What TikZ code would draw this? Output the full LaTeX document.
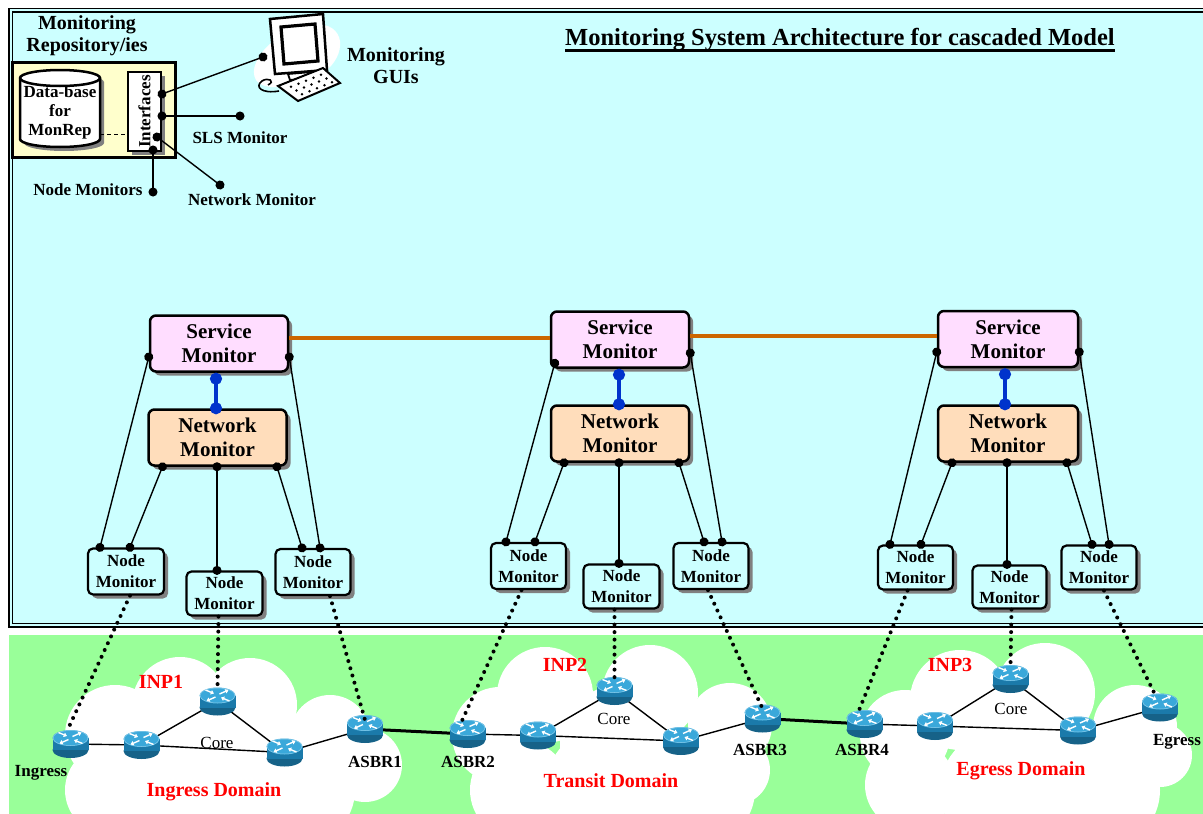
\documentclass[tikz,border=0pt]{standalone}
\usepackage{fontspec}
\usepackage{graphicx}
\setmainfont{Liberation Serif}
\usetikzlibrary{shadows,arrows.meta,calc}

\definecolor{cyanbg}{HTML}{CCFFFF}
\definecolor{greenbg}{HTML}{99FF99}
\definecolor{smfill}{HTML}{FFDDFF}
\definecolor{nmfill}{HTML}{FFDDBB}
\definecolor{repofill}{HTML}{FFFFCC}
\definecolor{peer}{HTML}{CC6600}
\definecolor{vlink}{HTML}{0033CC}
\definecolor{rtop}{HTML}{3AA8DA}
\definecolor{rbody}{HTML}{1B7AAA}
\definecolor{inpred}{HTML}{FF0000}

\newcommand\myfs[2]{\fontsize{#1pt}{#2pt}\selectfont}

\tikzset{
  box/.style={draw, line width=2.5pt, rounded corners=6pt, align=center, inner sep=0pt,
    drop shadow={shadow xshift=4pt, shadow yshift=-4pt, fill=black!50, opacity=1}},
  svcmon/.style={box, fill=smfill, minimum width=138pt, minimum height=56pt, font=\bfseries\myfs{21}{24}},
  netmon/.style={box, fill=nmfill, minimum width=138pt, minimum height=56pt, font=\bfseries\myfs{21}{24}},
  nodemon/.style={box, fill=cyanbg, minimum width=75pt, minimum height=45pt, line width=2.2pt,
    rounded corners=5pt, font=\bfseries\myfs{17}{21}},
  conn/.style={line width=1.4pt, shorten >=-4.5pt, shorten <=-4.5pt,
    {Circle[length=9pt]}-{Circle[length=9pt]}},
  vconn/.style={vlink, line width=3.2pt, shorten >=-6pt, shorten <=-6pt,
    {Circle[length=12pt]}-{Circle[length=12pt]}},
  peerlink/.style={peer, line width=3.5pt},
  monlink/.style={line width=4pt, dash pattern=on 0pt off 7.5pt, line cap=round},
  intra/.style={line width=1.4pt},
  inter/.style={line width=3pt},
  lbl/.style={font=\bfseries\myfs{17}{19}, inner sep=0pt},
  inp/.style={font=\bfseries\myfs{20}{22}, text=inpred, inner sep=0pt},
  corelbl/.style={font=\myfs{17}{19}, inner sep=0pt},
  router/.pic={
    \fill[rbody!80!black] (0,6) ellipse [x radius=18pt, y radius=8pt];
    \fill[rbody] (-18,-6) rectangle (18,6);
    \fill[rtop] (0,-6) ellipse [x radius=18pt, y radius=8pt];
    \draw[rtop!60!white, line width=0.5pt] (0,-6) ellipse [x radius=17.5pt, y radius=7.5pt];
    \begin{scope}[white, line width=1.4pt, -{Triangle[length=3.2pt,width=4.5pt]}]
      \draw (2,-7.5) -- (11,-11.5);
      \draw (-2,-4.5) -- (-11,-0.5);
      \draw (-12,-11.5) -- (-3.5,-8);
      \draw (12,-0.5) -- (3.5,-4);
    \end{scope}
  }
}

\begin{document}
\begin{tikzpicture}[x=1pt,y=-1pt]
\useasboundingbox (0,0) rectangle (1203,814);
\clip (0,0) rectangle (1203,814);
\fill[white] (0,0) rectangle (1203,814);

% management plane backdrop with double frame
\fill[cyanbg] (9,8.5) rectangle (1215,627);
\draw[line width=1.5pt] (9,8.5) rectangle (1215,627);
\draw[line width=1.2pt] (12.5,12) rectangle (1211,623.5);

% transport plane backdrop
\fill[greenbg] (9,635) rectangle (1215,820);

% provider clouds
\foreach \cx/\cy/\r in {115/735/50, 180/705/48, 250/705/47, 330/735/40, 365/765/37,
    110/790/45, 200/790/60, 300/790/55, 240/750/60, 160/760/50}
  \fill[white] (\cx,\cy) circle (\r pt);
\foreach \cx/\cy/\r in {500/735/48, 545/695/48, 650/693/48, 730/725/42, 735/770/35,
    520/790/50, 610/790/65, 700/790/55, 620/745/60}
  \fill[white] (\cx,\cy) circle (\r pt);
\foreach \cx/\cy/\r in {905/735/45, 960/700/50, 1045/693/50, 1135/727/42, 1160/755/32,
    910/785/45, 1000/790/60, 1100/790/60, 1030/750/60}
  \fill[white] (\cx,\cy) circle (\r pt);

% title
\node[font=\bfseries\myfs{24.5}{26}, inner sep=0pt] (title) at (840,40)
  {Monitoring System Architecture for cascaded Model};
\draw[line width=3pt] ([yshift=-4.5pt]title.base west) -- ([yshift=-4.5pt]title.base east);

% monitoring repository
\node[font=\bfseries\myfs{20}{22}, align=center, inner sep=0pt] (repolbl) at (87,36)
  {Monitoring\\Repository/ies};
\node[draw, line width=3pt, fill=repofill, minimum width=163pt, minimum height=95pt,
  inner sep=0pt] (repo) at (93.5,109.5) {};
\fill[black!50, shift={(4,4)}] (20,78) -- (20,139)
  arc[start angle=180, end angle=360, x radius=40pt, y radius=8pt] -- (100,78)
  arc[start angle=0, end angle=180, x radius=40pt, y radius=8pt] -- cycle;
\filldraw[fill=white, line width=2.5pt] (20,78) -- (20,139)
  arc[start angle=180, end angle=360, x radius=40pt, y radius=8pt] -- (100,78)
  arc[start angle=0, end angle=180, x radius=40pt, y radius=8pt] -- cycle;
\draw[line width=2.5pt] (20,78) arc[start angle=180, end angle=360, x radius=40pt, y radius=8pt];
\node[font=\bfseries\myfs{17}{19}, align=center, inner sep=0pt, minimum width=80pt] (db)
  at (60,112) {Data-base\\for\\MonRep};
\node[draw, line width=2pt, fill=white, minimum width=33pt, minimum height=79pt, inner sep=0pt,
  drop shadow={shadow xshift=4pt, shadow yshift=-4pt, fill=black!50, opacity=1},
  font=\bfseries\myfs{17}{19}] (iface) at (144.5,111.5) {\rotatebox{90}{Interfaces}};
\draw[line width=1pt, dash pattern=on 4pt off 3pt]
  ([yshift=-22pt]db.east) -- ([yshift=-22pt]db.east -| iface.west);

% monitoring GUI workstation
\fill[white] (256,80) .. controls (244,60) and (285,22) .. (318,24)
  .. controls (350,26) and (345,62) .. (318,76)
  .. controls (295,88) and (264,92) .. (256,80) -- cycle;
\filldraw[fill=white, line width=2.5pt] (270,19) -- (323,14) -- (327,70) -- (275,74) -- cycle;
\filldraw[fill=white, line width=3.2pt] (281,27) -- (315,24) -- (318,61) -- (284,64) -- cycle;
\filldraw[fill=white, line width=1.8pt] (288,74) -- (290,80) -- (314,78) -- (312,72) -- cycle;
\filldraw[fill=white, line width=2pt] (278,86) -- (323,68) -- (340,83) -- (298,101) -- cycle;
\foreach \i in {1,...,5}
  \foreach \j in {1,2,3}
    \fill ($(278,86) + \i*(7.5,-3) + \j*(5.5,3.75)$) circle (1.4pt);
\draw[line width=1.6pt] (279,91) .. controls (262,94) and (254,87) .. (262,81)
  .. controls (268,77) and (276,81) .. (268,85);
\node[font=\bfseries\myfs{20}{22}, align=center, inner sep=0pt] (guilbl) at (396,66)
  {Monitoring\\GUIs};

% repository interface ports
\coordinate (guiport) at (263,57);
\coordinate (slsport) at (240,116);
\coordinate (netport) at (220,185);
\coordinate (nodesport) at (153,192);
\draw[conn] ([yshift=17.5pt]iface.east) -- (guiport);
\draw[conn] ([yshift=-4.5pt]iface.east) -- (slsport);
\draw[conn] ([xshift=12.5pt,yshift=-25.5pt]iface.center) -- (netport);
\draw[conn] ([xshift=8.5pt,yshift=-38.5pt]iface.center) -- (nodesport);
\node[lbl] (slslbl) at (240,138) {SLS Monitor};
\node[lbl] (netlbl) at (252,200) {Network Monitor};
\node[lbl] (nodeslbl) at (88,190) {Node Monitors};

% per-domain monitor hierarchy
\node[svcmon] (sm1) at (219,343.5) {Service\\Monitor};
\node[netmon] (nm1) at (217.5,437.5) {Network\\Monitor};
\node[svcmon] (sm2) at (620,339.5) {Service\\Monitor};
\node[netmon] (nm2) at (620,433.5) {Network\\Monitor};
\node[svcmon, minimum width=140pt] (sm3) at (1008,339) {Service\\Monitor};
\node[netmon, minimum width=140pt] (nm3) at (1008,433.5) {Network\\Monitor};

\node[nodemon, minimum width=76pt, minimum height=46pt] (l1) at (126,571.5) {Node\\Monitor};
\node[nodemon, minimum width=76pt, minimum height=44pt] (m1) at (224.5,593.5) {Node\\Monitor};
\node[nodemon, minimum height=46pt] (r1) at (313,572) {Node\\Monitor};
\node[nodemon, minimum height=46pt] (l2) at (528.5,566) {Node\\Monitor};
\node[nodemon, minimum width=76pt, minimum height=44pt] (m2) at (621.5,586.5) {Node\\Monitor};
\node[nodemon, minimum height=46pt] (r2) at (711,566) {Node\\Monitor};
\node[nodemon, minimum height=44pt] (l3) at (915.5,567.5) {Node\\Monitor};
\node[nodemon, minimum width=74pt, minimum height=43pt] (m3) at (1009.5,587) {Node\\Monitor};
\node[nodemon, minimum height=44pt] (r3) at (1099,567.5) {Node\\Monitor};

% peering between service monitors
\draw[peerlink] ([yshift=5.5pt]sm1.east) -- ([yshift=5.5pt]sm1.east -| sm2.west);
\draw[peerlink] ([yshift=3.5pt]sm2.east) -- ([yshift=3.5pt]sm2.east -| sm3.west);

% service monitor to network monitor
\draw[vconn] ([xshift=-3pt,yshift=-6pt]sm1.south) -- ([xshift=-1.5pt]nm1.north);
\draw[vconn] ([xshift=-1pt,yshift=-6pt]sm2.south) -- ([xshift=-1pt]nm2.north);
\draw[vconn] ([xshift=-3pt,yshift=-6pt]sm3.south) -- ([xshift=-3pt]nm3.north);

% monitors to node monitors, domain 1
\draw[conn] ([yshift=-13.5pt]sm1.west) -- ([xshift=-26pt]l1.north);
\draw[conn] ([xshift=-55pt]nm1.south) -- ([xshift=4pt]l1.north);
\draw[conn] ([xshift=-0.5pt]nm1.south) -- ([xshift=-7.5pt]m1.north);
\draw[conn] ([xshift=59.5pt]nm1.south) -- ([xshift=-11pt]r1.north);
\draw[conn] ([yshift=-13.5pt]sm1.east) -- ([xshift=7pt]r1.north);
% domain 2
\draw[conn] ([xshift=5pt,yshift=5.5pt]sm2.south west) -- ([xshift=-22.5pt]l2.north);
\draw[conn] ([xshift=-56pt]nm2.south) -- ([xshift=6.5pt]l2.north);
\draw[conn] ([xshift=-1pt]nm2.south) -- ([xshift=-2.5pt]m2.north);
\draw[conn] ([xshift=59pt]nm2.south) -- ([xshift=-7pt]r2.north);
\draw[conn] ([yshift=-13.5pt]sm2.east) -- ([xshift=11pt]r2.north);
% domain 3
\draw[conn] ([yshift=-13pt]sm3.west) -- ([xshift=-25.5pt]l3.north);
\draw[conn] ([xshift=-56pt]nm3.south) -- ([xshift=5.5pt]l3.north);
\draw[conn] ([xshift=-1pt]nm3.south) -- ([xshift=-2.5pt]m3.north);
\draw[conn] ([xshift=59pt]nm3.south) -- ([xshift=-7pt]r3.north);
\draw[conn] ([yshift=-13pt]sm3.east) -- ([xshift=10pt]r3.north);

% routers
\coordinate (ing) at (70.5,744);
\coordinate (c1a) at (141.5,745);
\coordinate (c1t) at (217.5,701.5);
\coordinate (c1b) at (284.5,752.5);
\coordinate (asbr1) at (365,729);
\coordinate (asbr2) at (467.5,734);
\coordinate (c2a) at (538,735.5);
\coordinate (c2t) at (614.5,691);
\coordinate (c2b) at (681,741);
\coordinate (asbr3) at (762.5,718.5);
\coordinate (asbr4) at (864.5,724);
\coordinate (c3a) at (935,726);
\coordinate (c3t) at (1010.5,679);
\coordinate (c3b) at (1078,730.5);
\coordinate (egress) at (1160,707.5);

\draw[intra] (ing) -- (c1a) -- (c1t) -- (c1b) -- (asbr1);
\draw[intra] (c1a) -- (c1b);
\draw[intra] (asbr2) -- (c2a) -- (c2t) -- (c2b) -- (asbr3);
\draw[intra] (c2a) -- (c2b);
\draw[intra] (asbr4) -- (c3a) -- (c3t) -- (c3b) -- (egress);
\draw[intra] (c3a) -- (c3b);
\draw[inter] (asbr1) -- (asbr2);
\draw[inter] (asbr3) -- (asbr4);

\foreach \r in {ing,c1a,c1t,c1b,asbr1,asbr2,c2a,c2t,c2b,asbr3,asbr4,c3a,c3t,c3b,egress}
  \pic at (\r) {router};

% node monitors to their routers
\draw[monlink] ([xshift=4pt]l1.south) -- ([xshift=-3pt,yshift=14pt]ing);
\draw[monlink] ([xshift=-6pt]m1.south) -- ([yshift=13pt]c1t);
\draw[monlink] ([xshift=17pt]r1.south) -- ([yshift=9pt]asbr1);
\draw[monlink] ([xshift=-7pt]l2.south) -- ([xshift=-7pt,yshift=10pt]asbr2);
\draw[monlink] ([xshift=-7pt]m2.south) -- ([yshift=12pt]c2t);
\draw[monlink] ([xshift=-3pt]r2.south) -- ([yshift=10pt]asbr3);
\draw[monlink] ([xshift=-8pt]l3.south) -- ([xshift=-7pt,yshift=10pt]asbr4);
\draw[monlink] ([xshift=2pt]m3.south) -- ([yshift=12pt]c3t);
\draw[monlink] ([xshift=5pt]r3.south) -- ([xshift=-4pt,yshift=11pt]egress);

% router and domain labels
\node[lbl] (inglbl) at (41,773) {Ingress};
\node[lbl] (asbr1lbl) at (375,762) {ASBR1};
\node[lbl] (asbr2lbl) at (468,762) {ASBR2};
\node[lbl] (asbr3lbl) at (760,750) {ASBR3};
\node[lbl] (asbr4lbl) at (862,750) {ASBR4};
\node[lbl] (egresslbl) at (1177,742) {Egress};
\node[corelbl] (core1) at (217,743) {Core};
\node[corelbl] (core2) at (614,719) {Core};
\node[corelbl] (core3) at (1011,709) {Core};
\node[inp] (inp1) at (161,682) {INP1};
\node[inp] (inp2) at (565,665) {INP2};
\node[inp] (inp3) at (950,665) {INP3};
\node[inp] (dom1) at (214,792) {Ingress Domain};
\node[inp] (dom2) at (611,781) {Transit Domain};
\node[inp] (dom3) at (1021,771) {Egress Domain};
\end{tikzpicture}
\end{document}
